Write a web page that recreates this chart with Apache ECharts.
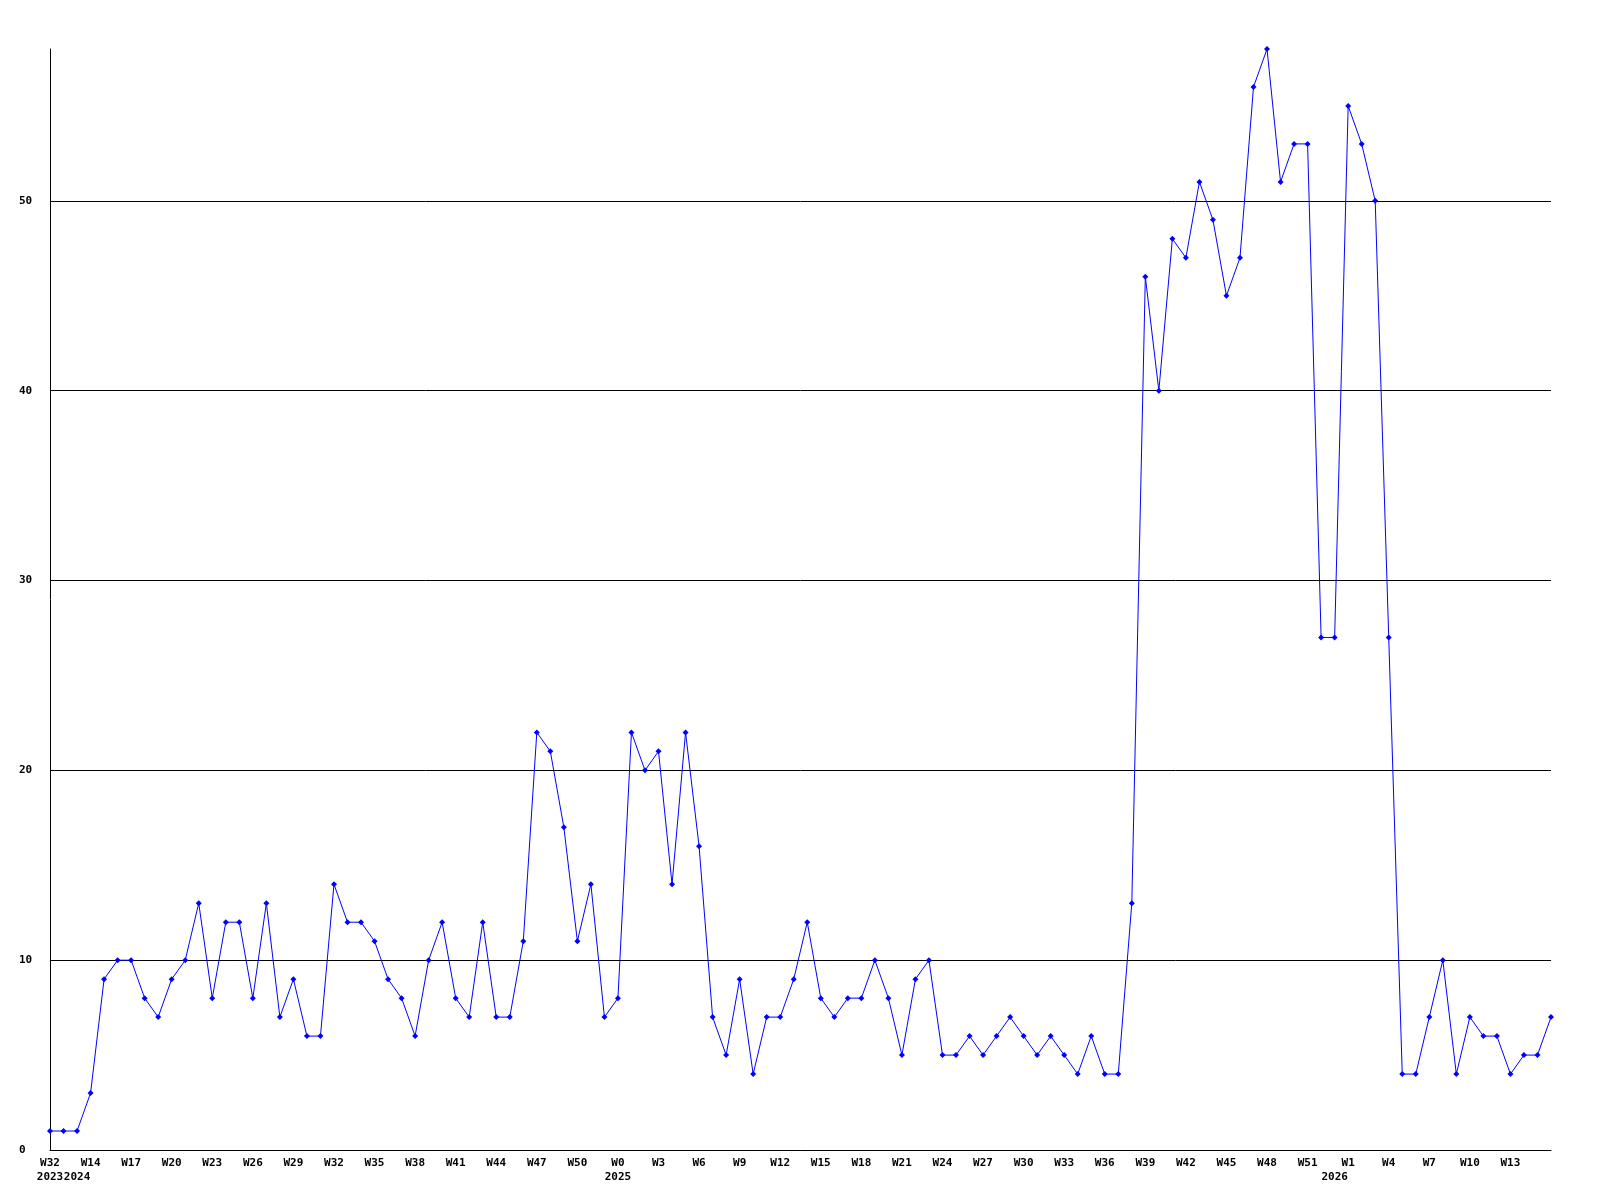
<!DOCTYPE html>
<html>
<head>
<meta charset="utf-8">
<script src="https://cdn.jsdelivr.net/npm/echarts@6/dist/echarts.min.js"></script>
<style>
html,body{margin:0;padding:0;background:#fff;}
#chart{width:1600px;height:1200px;}
</style>
</head>
<body>
<div id="chart"></div>
<script>
const categories = [
'2023-W32','2023-W33',
'2024-W13','2024-W14','2024-W15','2024-W16','2024-W17','2024-W18','2024-W19','2024-W20','2024-W21','2024-W22',
'2024-W23','2024-W24','2024-W25','2024-W26','2024-W27','2024-W28','2024-W29','2024-W30','2024-W31','2024-W32',
'2024-W33','2024-W34','2024-W35','2024-W36','2024-W37','2024-W38','2024-W39','2024-W40','2024-W41','2024-W42',
'2024-W43','2024-W44','2024-W45','2024-W46','2024-W47','2024-W48','2024-W49','2024-W50','2024-W51','2024-W52',
'2025-W0','2025-W1','2025-W2','2025-W3','2025-W4','2025-W5','2025-W6','2025-W7','2025-W8','2025-W9',
'2025-W10','2025-W11','2025-W12','2025-W13','2025-W14','2025-W15','2025-W16','2025-W17','2025-W18','2025-W19',
'2025-W20','2025-W21','2025-W22','2025-W23','2025-W24','2025-W25','2025-W26','2025-W27','2025-W28','2025-W29',
'2025-W30','2025-W31','2025-W32','2025-W33','2025-W34','2025-W35','2025-W36','2025-W37','2025-W38','2025-W39',
'2025-W40','2025-W41','2025-W42','2025-W43','2025-W44','2025-W45','2025-W46','2025-W47','2025-W48','2025-W49',
'2025-W50','2025-W51','2025-W52',
'2026-W0','2026-W1','2026-W2','2026-W3','2026-W4','2026-W5','2026-W6','2026-W7','2026-W8','2026-W9',
'2026-W10','2026-W11','2026-W12','2026-W13','2026-W14','2026-W15','2026-W16'
];

const values = [
1,1,1,3,9,10,10,8,7,9,
10,13,8,12,12,8,13,7,9,6,
6,14,12,12,11,9,8,6,10,12,
8,7,12,7,7,11,22,21,17,11,
14,7,8,22,20,21,14,22,16,7,
5,9,4,7,7,9,12,8,7,8,
8,10,8,5,9,10,5,5,6,5,
6,7,6,5,6,5,4,6,4,4,
13,46,40,48,47,51,49,45,47,56,
58,51,53,53,27,27,55,53,50,27,
4,4,7,10,4,7,6,6,4,5,
5,7
];

const yTicks = [0,10,20,30,40,50];

const weekOf = c => c.split('-')[1];
const yearOf = c => c.split('-')[0];

const labelFont = {fontFamily:'DejaVu Sans Mono', fontWeight:'bold', fontSize:11, color:'#000'};

const chart = echarts.init(document.getElementById('chart'), null, {renderer:'canvas'});
chart.setOption({
  animation:false,
  backgroundColor:'#fff',
  grid:{left:50, right:49, top:49, bottom:50, containLabel:false},
  xAxis:[
    {
      type:'category', data:categories, boundaryGap:false,
      axisLine:{show:true, lineStyle:{color:'#000', width:1}},
      axisTick:{show:false},
      splitLine:{show:false},
      axisLabel:Object.assign({interval:2, margin:8, lineHeight:11, showMaxLabel:false,
        formatter:(v, i)=> i===categories.length-1 ? '' : weekOf(v)}, labelFont)
    },
    {
      type:'category', data:categories, boundaryGap:false, position:'bottom', offset:14,
      axisLine:{show:false}, axisTick:{show:false}, splitLine:{show:false},
      axisLabel:Object.assign({interval:0, margin:8, lineHeight:11,
        formatter:(v, i)=> (i===0 || yearOf(categories[i-1])!==yearOf(v)) ? yearOf(v) : ''}, labelFont)
    }
  ],
  yAxis:{
    type:'value', min:0, max:58, interval:10,
    axisLine:{show:true, lineStyle:{color:'#000', width:1}},
    axisTick:{show:false},
    splitLine:{show:true, showMaxLine:false, lineStyle:{color:'#000', width:1}},
    axisLabel:Object.assign({align:'left', margin:31, showMaxLabel:false,
      formatter:v=> yTicks.indexOf(v)>=0 ? String(v) : ''}, labelFont)
  },
  series:[{
    type:'line', data:values, xAxisIndex:0,
    symbol:'diamond', symbolSize:6, showAllSymbol:true,
    lineStyle:{color:'#0000ff', width:1},
    itemStyle:{color:'#0000ff'},
    emphasis:{disabled:true}
  }]
});
</script>
</body>
</html>
